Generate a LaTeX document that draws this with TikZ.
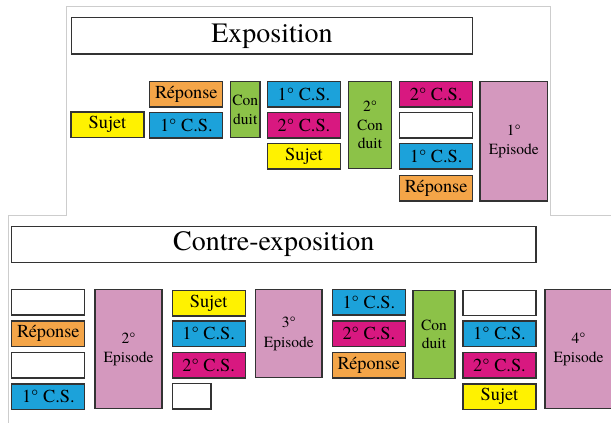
\documentclass[tikz,border=0pt]{standalone}
\usepackage{fontspec}
\setmainfont{texgyretermes-regular.otf}[BoldFont=texgyretermes-bold.otf]
\usepackage{tikz}
\definecolor{sujetcol}{RGB}{255,242,0}
\definecolor{repcol}{RGB}{244,165,72}
\definecolor{csacol}{RGB}{28,162,218}
\definecolor{csbcol}{RGB}{216,24,128}
\definecolor{condcol}{RGB}{140,194,72}
\definecolor{episcol}{RGB}{212,152,190}
\definecolor{framecol}{RGB}{205,205,205}

\begin{document}
\begin{tikzpicture}[
    x=1pt, y=-1pt,
    box/.style={rectangle, draw=black!80, line width=1.3pt, inner sep=0pt, minimum width=73pt, minimum height=25.5pt, align=center, font=\fontsize{18.3}{20}\selectfont},
    snode/.style={box, fill=sujetcol},
    rnode/.style={box, fill=repcol},
    anode/.style={box, fill=csacol},
    bnode/.style={box, fill=csbcol},
    wnode/.style={box, fill=white},
    cnode/.style={box, fill=condcol, font=\fontsize{15.5}{18.5}\selectfont},
    enode/.style={box, fill=episcol, font=\fontsize{15.5}{19.5}\selectfont},
    tnode/.style={box, fill=white, minimum height=36.5pt, font=\fontsize{28}{30}\selectfont},
  ]
  \useasboundingbox (0,0) rectangle (611,423);
  \draw[framecol, line width=1pt] (8.3,424) -- (8.3,215) -- (66.7,215) -- (66.7,6)
    -- (550,6) -- (550,215) -- (612,215);

  % Exposition
  \node[tnode, minimum width=401.5pt] (expo) at (272,35.8) {Exposition};
  \node[snode] (sujet1)  at (107.5,124.7) {Sujet};
  \node[rnode] (rep1)    at (186.3,94.3)  {Réponse};
  \node[anode] (csa1)    at (186.3,125.3) {1° C.S.};
  \node[cnode, minimum width=29.5pt, minimum height=56pt] (cond1) at (245.3,109.7) {Con\\duit};
  \node[anode] (csa2)    at (304,94.3)    {1° C.S.};
  \node[bnode] (csb2)    at (304,125.3)   {2° C.S.};
  \node[snode] (sujet2)  at (304,156.3)   {Sujet};
  \node[cnode, minimum width=43.3pt, minimum height=87pt] (cond2) at (370,125.2) {2°\\Con\\duit};
  \node[bnode] (csb3)    at (436.2,94.3)  {2° C.S.};
  \node[wnode] (vide3)   at (436.2,125.3) {};
  \node[anode] (csa3)    at (436.2,156.3) {1° C.S.};
  \node[rnode] (rep3)    at (436.2,188.3) {Réponse};
  \node[enode, minimum width=67.7pt, minimum height=119.4pt] (epi1) at (513.8,141.3) {1°\\Episode};

  % Contre-exposition
  \node[tnode, minimum width=524.7pt] (contre) at (273.7,244.4) {Contre-exposition};
  \node[wnode] (videA1)  at (48.3,302.2)  {};
  \node[rnode] (repA)    at (48.3,333.8)  {Réponse};
  \node[wnode] (videA3)  at (48.3,365.3)  {};
  \node[anode] (csaA)    at (48.3,396.6)  {1° C.S.};
  \node[enode, minimum width=67pt, minimum height=119pt] (epi2) at (128.5,349.2) {2°\\Episode};
  \node[snode] (sujetC)  at (208.7,303.3) {Sujet};
  \node[anode] (csaC)    at (208.7,333.8) {1° C.S.};
  \node[bnode] (csbC)    at (208.7,365.2) {2° C.S.};
  \node[wnode, minimum width=38.7pt] (videC) at (191.7,396.3) {};
  \node[enode, minimum width=66.4pt, minimum height=88pt] (epi3) at (288.8,333.7) {3°\\Episode};
  \node[anode] (csaD)    at (368.8,302.3) {1° C.S.};
  \node[bnode] (csbD)    at (368.8,333.8) {2° C.S.};
  \node[rnode] (repD)    at (368.8,365.2) {Réponse};
  \node[cnode, minimum width=42pt, minimum height=87.7pt] (condD) at (434,334.5) {Con\\duit};
  \node[wnode] (videE)   at (499.5,303)   {};
  \node[anode] (csaE)    at (499.5,333.8) {1° C.S.};
  \node[bnode] (csbE)    at (499.5,365.2) {2° C.S.};
  \node[snode] (sujetE)  at (499.5,396.6) {Sujet};
  \node[enode, minimum width=67pt, minimum height=119pt] (epi4) at (578.5,349.2) {4°\\Episode};
\end{tikzpicture}
\end{document}
